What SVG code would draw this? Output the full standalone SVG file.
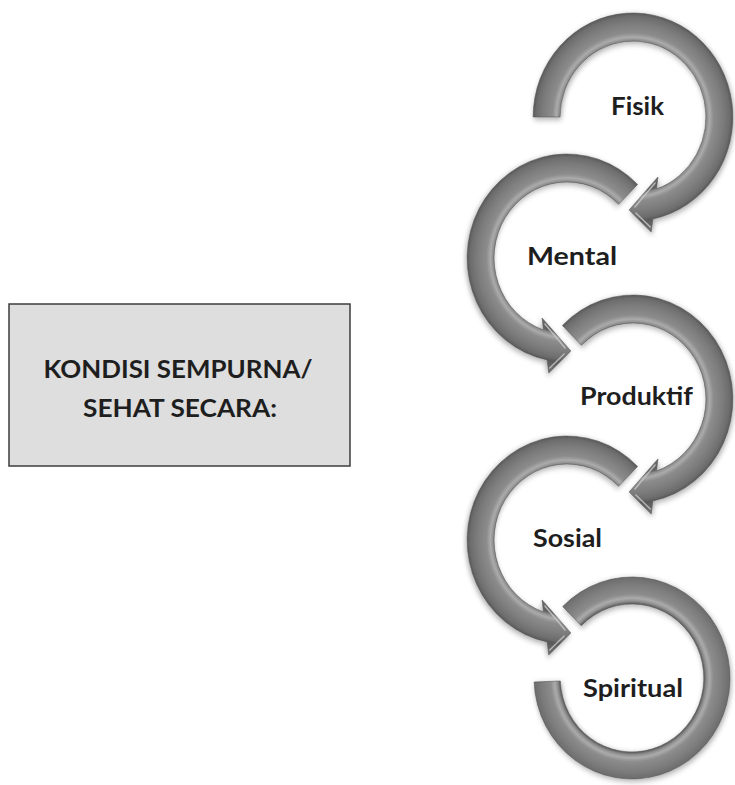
<svg xmlns="http://www.w3.org/2000/svg" width="735" height="785" viewBox="0 0 735 785">
<style>
.lbl{font-family:Lato,"Liberation Sans",sans-serif;font-weight:bold;font-size:24.5px;fill:#1e1e1e;text-anchor:middle}
.box{fill:#dedede;stroke:#3c3c3c;stroke-width:1.5}
.arr{fill:url(#ring);stroke:#555;stroke-width:0.6;filter:url(#sh)}
.hl{fill:none;stroke:#c8c8c8;stroke-width:1.6;stroke-linecap:round;opacity:0.8}
</style>
<defs>
<radialGradient id="ring" gradientUnits="userSpaceOnUse" cx="0" cy="0" r="120">
<stop offset="0.5" stop-color="#707070"/>
<stop offset="0.62" stop-color="#606060"/>
<stop offset="0.64" stop-color="#8e8e8e"/>
<stop offset="0.665" stop-color="#ababab"/>
<stop offset="0.70" stop-color="#8c8c8c"/>
<stop offset="0.78" stop-color="#7c7c7c"/>
<stop offset="0.84" stop-color="#6c6c6c"/>
<stop offset="0.867" stop-color="#585858"/>
<stop offset="0.92" stop-color="#686868"/>
<stop offset="1" stop-color="#777"/>
</radialGradient>
<filter id="sh" x="-20%" y="-20%" width="140%" height="140%">
<feGaussianBlur in="SourceAlpha" stdDeviation="3"/>
<feOffset dx="1" dy="2"/>
<feComponentTransfer><feFuncA type="linear" slope="0.35"/></feComponentTransfer>
<feMerge><feMergeNode/><feMergeNode in="SourceGraphic"/></feMerge>
</filter>
<path id="arrowFirst" d="M -104,0 A 104 104 0 1 1 20.66,101.93 L 19,115 L -4,93 L 26,60 L 24.48,71.95 A 76 76 0 1 0 -76,0 Z"/>
<path id="arrowMid" d="M -73.54,-73.54 A 104 104 0 1 1 20.66,101.93 L 19,115 L -4,93 L 26,60 L 24.48,71.95 A 76 76 0 1 0 -53.74,-53.74 Z"/>
<path id="headHl" d="M 23,66 L 2,90 M 18,110 L 3,96"/>
</defs>
<rect width="735" height="785" fill="#fff"/>
<g id="box">
<rect class="box" x="9" y="304" width="341" height="162"/>
<text class="lbl" x="178" y="377.5" font-size="25" textLength="269" lengthAdjust="spacingAndGlyphs">KONDISI SEMPURNA/</text>
<text class="lbl" x="180" y="416.5" font-size="25" textLength="194" lengthAdjust="spacingAndGlyphs">SEHAT SECARA:</text>
</g>
<g id="connectors"></g>
<g id="fisik">
<g transform="translate(633,117) scale(0.96,1)">
<use href="#arrowFirst" class="arr"/>
<use href="#headHl" class="hl"/>
</g>
<text class="lbl" x="637.5" y="115" textLength="53" lengthAdjust="spacingAndGlyphs">Fisik</text>
</g>
<g id="mental">
<g transform="translate(567,258) scale(-0.96,1)">
<use href="#arrowMid" class="arr"/>
<use href="#headHl" class="hl"/>
</g>
<text class="lbl" x="572" y="265" textLength="90" lengthAdjust="spacingAndGlyphs">Mental</text>
</g>
<g id="produktif">
<g transform="translate(633,399) scale(0.96,1)">
<use href="#arrowMid" class="arr"/>
<use href="#headHl" class="hl"/>
</g>
<text class="lbl" x="636.5" y="405" textLength="113" lengthAdjust="spacingAndGlyphs">Produktif</text>
</g>
<g id="sosial">
<g transform="translate(567,540) scale(-0.96,1)">
<use href="#arrowMid" class="arr"/>
<use href="#headHl" class="hl"/>
</g>
<text class="lbl" x="567.5" y="547" textLength="69" lengthAdjust="spacingAndGlyphs">Sosial</text>
</g>
<g id="spiritual">
<path class="arr" transform="translate(632,678) scale(0.97,1)" d="M -71.42,-71.42 A 101 101 0 1 1 -100.92,4 L -73.9,3 A 74 74 0 1 0 -52.33,-52.33 Z"/>
<text class="lbl" x="633" y="697" textLength="100" lengthAdjust="spacingAndGlyphs">Spiritual</text>
</g>
</svg>
